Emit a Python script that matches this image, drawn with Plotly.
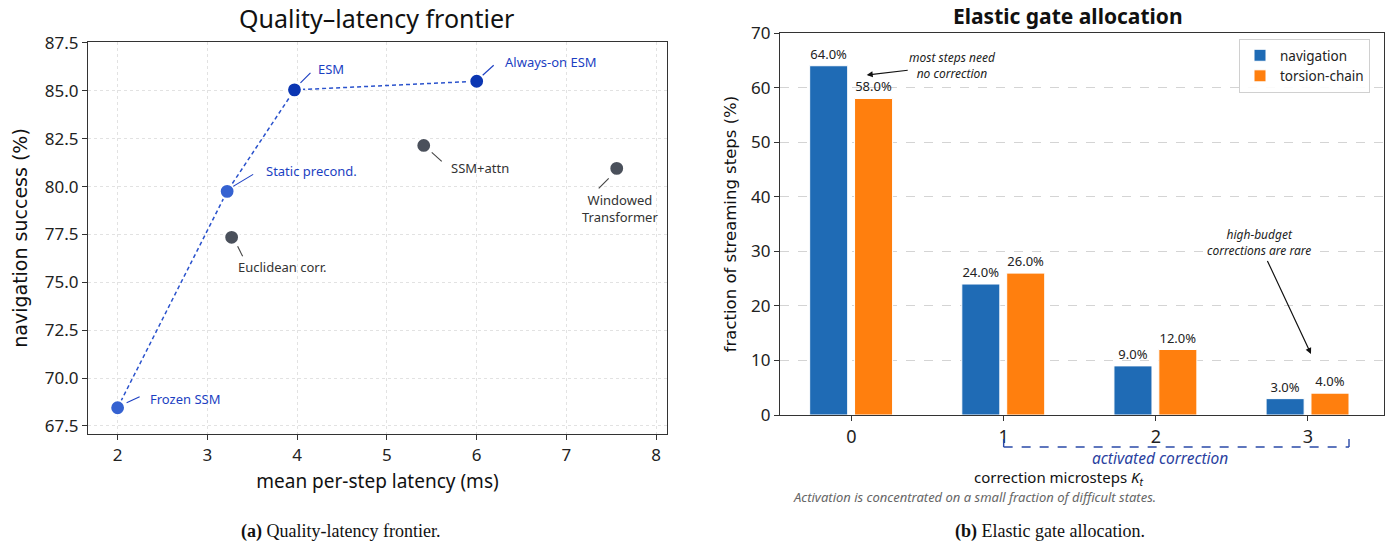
import plotly.graph_objects as go

# ---------------- data ----------------
methods = ["Frozen SSM", "Static precond.", "ESM", "Always-on ESM",
           "SSM+attn", "Windowed<br>Transformer", "Euclidean corr."]
latency_ms = [2.0, 3.22, 3.97, 6.0, 5.41, 7.56, 3.27]
success_pct = [68.45, 79.75, 85.05, 85.5, 82.15, 80.95, 77.35]
on_frontier = [True, True, True, True, False, False, False]

frontier_order = ["Frozen SSM", "Static precond.", "ESM", "Always-on ESM"]

microsteps = [0, 1, 2, 3]
navigation = [64.0, 24.0, 9.0, 3.0]
torsion_chain = [58.0, 26.0, 12.0, 4.0]

W, H = 1400, 546

# ---------------- layout geometry (pixels) ----------------
L_x0, L_x1, L_y0, L_y1 = 88, 667, 42, 434
R_x0, R_x1, R_y0, R_y1 = 780, 1384, 33, 415
LX_RANGE = [1.67, 8.12]
LY_RANGE = [67.08, 87.55]
RX_RANGE = [-0.47, 3.5]
RY_RANGE = [0, 70]

def px(x): return x / W
def py(y): return 1 - y / H

fig = go.Figure()

BLUE_LIGHT = "#3562d1"
BLUE_DARK = "#0b36b2"
GRAY = "#4a505b"
LABEL_BLUE = "#1c3fc2"

# frontier dashed line
fx = [latency_ms[methods.index(m)] for m in frontier_order]
fy = [success_pct[methods.index(m)] for m in frontier_order]
fig.add_trace(go.Scatter(x=fx, y=fy, mode="lines", xaxis="x", yaxis="y",
                         line=dict(color="#2a52cc", width=1.5, dash="4px,3px"),
                         showlegend=False, hoverinfo="skip"))

colors = []
for m, f in zip(methods, on_frontier):
    if not f:
        colors.append(GRAY)
    elif m in ("ESM", "Always-on ESM"):
        colors.append(BLUE_DARK)
    else:
        colors.append(BLUE_LIGHT)

fig.add_trace(go.Scatter(x=latency_ms, y=success_pct, mode="markers", xaxis="x", yaxis="y",
                         marker=dict(size=15, color=colors, line=dict(color="white", width=2.2)),
                         showlegend=False, hoverinfo="skip", cliponaxis=False))

# labels: text offset (px, down positive), leader line (start, end) offsets from marker (px)
label_cfg = {
    "Frozen SSM":              dict(tx=30, ty=-9, anchor="left", lead=(9, -5, 22, -11)),
    "Static precond.":         dict(tx=37, ty=-20, anchor="left", lead=(6, -5, 26, -17)),
    "ESM":                     dict(tx=22, ty=-21, anchor="left", lead=(6, -7, 16, -17)),
    "Always-on ESM":           dict(tx=26, ty=-19, anchor="left", lead=(6, -6, 17, -16)),
    "SSM+attn":                dict(tx=25, ty=23, anchor="left", lead=(8, 7, 18, 16)),
    "Windowed<br>Transformer": dict(tx=3, ty=40, anchor="center", lead=(-8, 10, -18, 20)),
    "Euclidean corr.":         dict(tx=4, ty=30, anchor="left", lead=(6, 9, 11, 19)),
}

for m, x, y, f in zip(methods, latency_ms, success_pct, on_frontier):
    c = label_cfg[m]
    fig.add_annotation(x=x, y=y, xref="x", yref="y", text=m, showarrow=False,
                       xanchor=c["anchor"], yanchor="middle", xshift=c["tx"], yshift=-c["ty"],
                       align="center",
                       font=dict(family="Noto Sans", size=13, color=LABEL_BLUE if f else "#333333"))
    sx, sy, ex, ey = c["lead"]
    fig.add_shape(type="line", xref="x", yref="y",
                  xsizemode="pixel", ysizemode="pixel", xanchor=x, yanchor=y,
                  x0=sx, x1=ex, y0=-sy, y1=-ey,
                  line=dict(color=LABEL_BLUE if f else "#444444", width=1.1))

# ---------------- right panel bars ----------------
NAV_C = "#1f6bb5"
TOR_C = "#ff7f0e"
fig.add_trace(go.Bar(x=microsteps, y=navigation, name="navigation", xaxis="x2", yaxis="y2",
                     width=0.25, offset=-0.275, marker=dict(color=NAV_C, line=dict(color="white", width=1)),
                     texttemplate="%{y:.1f}%", textposition="outside", cliponaxis=False,
                     textfont=dict(family="Noto Sans", size=13, color="#222")))
fig.add_trace(go.Bar(x=microsteps, y=torsion_chain, name="torsion-chain", xaxis="x2", yaxis="y2",
                     width=0.25, offset=0.02, marker=dict(color=TOR_C, line=dict(color="white", width=1)),
                     texttemplate="%{y:.1f}%", textposition="outside", cliponaxis=False,
                     textfont=dict(family="Noto Sans", size=13, color="#222")))

# annotations right panel
fig.add_annotation(x=0.1, y=62.3, xref="x2", yref="y2", text="<i>most steps need<br>no correction</i>",
                   showarrow=True, arrowhead=2, arrowsize=1, arrowwidth=1.2, arrowcolor="#111",
                   ax=86, ay=-10, font=dict(family="Noto Sans", size=12, color="#222"), align="center")
fig.add_annotation(x=3.02, y=11.2, xref="x2", yref="y2", text="<i>high-budget<br>corrections are rare</i>",
                   showarrow=True, arrowhead=2, arrowsize=1, arrowwidth=1.2, arrowcolor="#111",
                   ax=-52, ay=-111, font=dict(family="Noto Sans", size=12, color="#222"), align="center",
                   bgcolor="white", standoff=0)

# bracket under axis (paper coords computed from data x)
def rx_paper(v):
    pxv = R_x0 + (v - RX_RANGE[0]) / (RX_RANGE[1] - RX_RANGE[0]) * (R_x1 - R_x0)
    return px(pxv)

b0, b1 = rx_paper(1.0), rx_paper(3.27)
yb, yt = py(447), py(439)
BR_C = "#2a49a8"
fig.add_shape(type="line", xref="paper", yref="paper", x0=b0, x1=b1, y0=yb, y1=yb,
              line=dict(color=BR_C, width=1.4, dash="dash"))
fig.add_shape(type="line", xref="paper", yref="paper", x0=b0, x1=b0, y0=yb, y1=yt, line=dict(color=BR_C, width=1.4))
fig.add_shape(type="line", xref="paper", yref="paper", x0=b1, x1=b1, y0=yb, y1=yt, line=dict(color=BR_C, width=1.4))
fig.add_annotation(x=px(1160), y=py(458), xref="paper", yref="paper", xanchor="center", yanchor="middle",
                   text="<i>activated correction</i>", showarrow=False,
                   font=dict(family="Noto Sans", size=15.5, color="#2a3fa0"))

fig.add_annotation(x=px(1058), y=py(478), xref="paper", yref="paper", xanchor="center", yanchor="middle",
                   text="correction microsteps <i>K</i><sub><i>t</i></sub>", showarrow=False,
                   font=dict(family="Noto Sans", size=15, color="#111"))
fig.add_annotation(x=px(791), y=py(497), xref="paper", yref="paper", xanchor="left", yanchor="middle",
                   text="<i>Activation is concentrated on a small fraction of difficult states.</i>",
                   showarrow=False, font=dict(family="Noto Sans", size=13, color="#666"))

# titles
fig.add_annotation(x=px(376), y=py(18), xref="paper", yref="paper", xanchor="center", yanchor="middle",
                   text="Quality\u2013latency frontier",
                   showarrow=False, font=dict(family="Noto Sans", size=25, color="#111"))
fig.add_annotation(x=px(1068), y=py(16), xref="paper", yref="paper", xanchor="center", yanchor="middle",
                   text="<b>Elastic gate allocation</b>",
                   showarrow=False, font=dict(family="Noto Sans", size=21, color="#111"))

# captions
fig.add_annotation(x=px(340), y=py(531), xref="paper", yref="paper", xanchor="center", yanchor="middle",
                   text="<b>(a)</b> Quality-latency frontier.", showarrow=False,
                   font=dict(family="Liberation Serif", size=18, color="#111"))
fig.add_annotation(x=px(1050), y=py(531), xref="paper", yref="paper", xanchor="center", yanchor="middle",
                   text="<b>(b)</b> Elastic gate allocation.", showarrow=False,
                   font=dict(family="Liberation Serif", size=18, color="#111"))

axis_common = dict(showline=True, linecolor="#333", linewidth=1.3, mirror=True,
                   ticks="outside", ticklen=5, tickcolor="#333", zeroline=False, automargin=False)

fig.update_layout(
    width=W, height=H, margin=dict(l=0, r=0, t=0, b=0, autoexpand=False),
    paper_bgcolor="white", plot_bgcolor="white",
    barmode="overlay",
    xaxis=dict(domain=[px(L_x0), px(L_x1)], anchor="y", range=LX_RANGE,
               tickvals=[2, 3, 4, 5, 6, 7, 8], showgrid=True, gridcolor="#e2e2e2", griddash="dot",
               tickfont=dict(family="Noto Sans", size=17, color="#222"),
               title=dict(text="mean per-step latency (ms)", standoff=10,
                          font=dict(family="Noto Sans", size=19, color="#111")),
               **axis_common),
    yaxis=dict(domain=[py(L_y1), py(L_y0)], anchor="x", range=LY_RANGE,
               tickvals=[67.5, 70, 72.5, 75, 77.5, 80, 82.5, 85, 87.5], tickformat=".1f",
               showgrid=True, gridcolor="#e2e2e2", griddash="dot",
               tickfont=dict(family="Noto Sans", size=17, color="#222"),
               title=dict(text="navigation success (%)", standoff=12,
                          font=dict(family="DejaVu Sans", size=19, color="#111")),
               **axis_common),
    xaxis2=dict(domain=[px(R_x0), px(R_x1)], anchor="y2", range=RX_RANGE,
                tickvals=microsteps, showgrid=False,
                tickfont=dict(family="Noto Sans", size=18, color="#222"),
                **axis_common),
    yaxis2=dict(domain=[py(R_y1), py(R_y0)], anchor="x2", range=RY_RANGE,
                tickvals=[0, 10, 20, 30, 40, 50, 60, 70],
                showgrid=True, gridcolor="#d4d4d4", griddash="dash",
                tickfont=dict(family="Noto Sans", size=17, color="#222"),
                title=dict(text="fraction of streaming steps (%)", standoff=10,
                           font=dict(family="DejaVu Sans", size=16.5, color="#111")),
                **axis_common),
    legend=dict(x=px(1370), y=py(39), xanchor="right", yanchor="top",
                bordercolor="#d0d0d0", borderwidth=1, bgcolor="rgba(255,255,255,0.9)",
                font=dict(family="Noto Sans", size=13.5, color="#222"), tracegroupgap=2),
)

fig.write_html("out.html", config={"displayModeBar": False},
               post_script="document.body.style.margin='0';")
